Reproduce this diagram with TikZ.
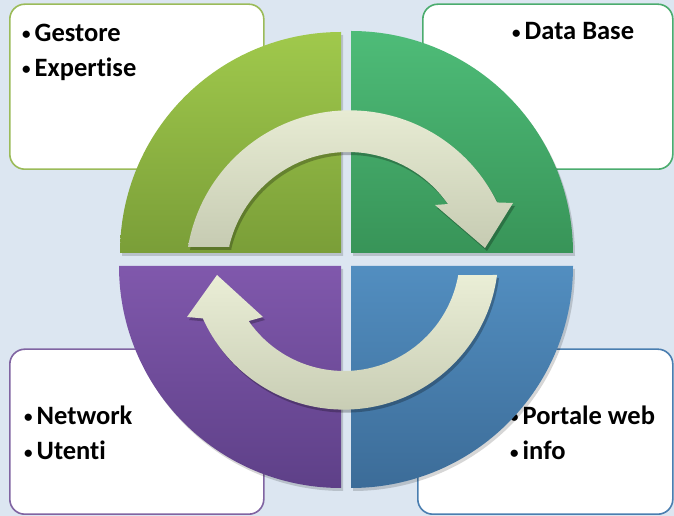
\documentclass[tikz,border=0pt]{standalone}
\usepackage{fontspec}
\setmainfont{Carlito}[Ligatures=NoCommon]
\definecolor{bgcol}{RGB}{220,230,241}
\definecolor{tlcol}{RGB}{155,187,89}
\definecolor{trcol}{RGB}{75,172,110}
\definecolor{blcol}{RGB}{128,100,162}
\definecolor{brcol}{RGB}{74,126,176}
\definecolor{tlTop}{RGB}{160,201,76}
\definecolor{tlBot}{RGB}{122,158,56}
\definecolor{trTop}{RGB}{78,188,120}
\definecolor{trBot}{RGB}{56,148,88}
\definecolor{brTop}{RGB}{82,142,192}
\definecolor{brBot}{RGB}{60,108,152}
\definecolor{blTop}{RGB}{128,88,172}
\definecolor{blBot}{RGB}{94,64,136}
\definecolor{arrTop}{RGB}{234,238,214}
\definecolor{arrBot}{RGB}{198,203,178}
\newcommand\mybul{\makebox[12.5pt][l]{\raisebox{1.5pt}{\fontsize{17}{17}\selectfont •}}}
\begin{document}
\begin{tikzpicture}[x=1pt,y=1pt,
  box/.style={draw, line width=1.6pt, rounded corners=15pt, fill=white,
    inner sep=0pt, anchor=south west, minimum width=254pt, minimum height=165pt},
  lbl/.style={anchor=base west, inner sep=0pt, font=\fontsize{26.5}{30}\selectfont\bfseries},
  shadowfill/.style={fill=black, opacity=0.16},
]
\fill[bgcol] (0,0) rectangle (674,516);
\useasboundingbox (0,0) rectangle (674,516);

% boxes
\node[box, draw=tlcol] (boxTL) at (9,346) {};
\node[box, draw=trcol, minimum width=250pt] (boxTR) at (422,346) {};
\node[box, draw=blcol] (boxBL) at (9,1) {};
\node[box, draw=brcol, minimum width=255pt] (boxBR) at (417,1) {};

% texts
\node[lbl] (t1) at (22,474.5) {\mybul Gestore};
\node[lbl] (t2) at (22,439.5) {\mybul Expertise};
\node[lbl] (t3) at (512,476) {\mybul Data Base};
\node[lbl] (t4) at (24,91.5) {\mybul Network};
\node[lbl] (t5) at (24,56) {\mybul Utenti};
\node[lbl] (t6) at (510,91.5) {\mybul Portale web};
\node[lbl] (t7) at (510,56) {\mybul info};

% quadrant shadows
\fill[shadowfill] (343,260) -- (343,481) arc[start angle=90, end angle=180, radius=221] -- cycle;
\fill[shadowfill] (353,260) -- (575,260) arc[start angle=0, end angle=90, radius=222] -- cycle;
\fill[shadowfill] (353,247) -- (353,25) arc[start angle=-90, end angle=0, radius=222] -- cycle;
\fill[shadowfill] (343,247) -- (121,247) arc[start angle=180, end angle=270, radius=222] -- cycle;

% quadrants
\shade[top color=tlTop, bottom color=tlBot] (341,263) -- (341,484) arc[start angle=90, end angle=180, radius=221] -- cycle;
\shade[top color=trTop, bottom color=trBot] (351,263) -- (573,263) arc[start angle=0, end angle=90, radius=222] -- cycle;
\shade[top color=brTop, bottom color=brBot] (351,250) -- (351,28) arc[start angle=-90, end angle=0, radius=222] -- cycle;
\shade[top color=blTop, bottom color=blBot] (341,250) -- (119,250) arc[start angle=180, end angle=270, radius=222] -- cycle;

% top arrow
\fill[shadowfill, opacity=0.25, shift={(2,-3)}]
  (230,269) -- (188,269) arc[start angle=170.4, end angle=26, radius=164]
  -- (513,313) -- (485,268) -- (435,311)
  -- ([shift={(35:122)}]348,242) arc[start angle=35, end angle=167.1, radius=122] -- cycle;
\shade[top color=arrTop, bottom color=arrBot]
  (230,269) -- (188,269) arc[start angle=170.4, end angle=26, radius=164]
  -- (513,313) -- (485,268) -- (435,311)
  -- ([shift={(35:122)}]348,242) arc[start angle=35, end angle=167.1, radius=122] -- cycle;

% bottom arrow
\fill[shadowfill, opacity=0.25, shift={(2,-3)}]
  (497,241) arc[start angle=-7.4, end angle=-155.8, radius=154.5]
  -- (187,199) -- (217,241) -- (263,199)
  -- ([shift={(-145.3:116)}]344,261) arc[start angle=-145.3, end angle=-9.95, radius=116] -- cycle;
\shade[top color=arrTop, bottom color=arrBot]
  (497,241) arc[start angle=-7.4, end angle=-155.8, radius=154.5]
  -- (187,199) -- (217,241) -- (263,199)
  -- ([shift={(-145.3:116)}]344,261) arc[start angle=-145.3, end angle=-9.95, radius=116] -- cycle;
\end{tikzpicture}
\end{document}
